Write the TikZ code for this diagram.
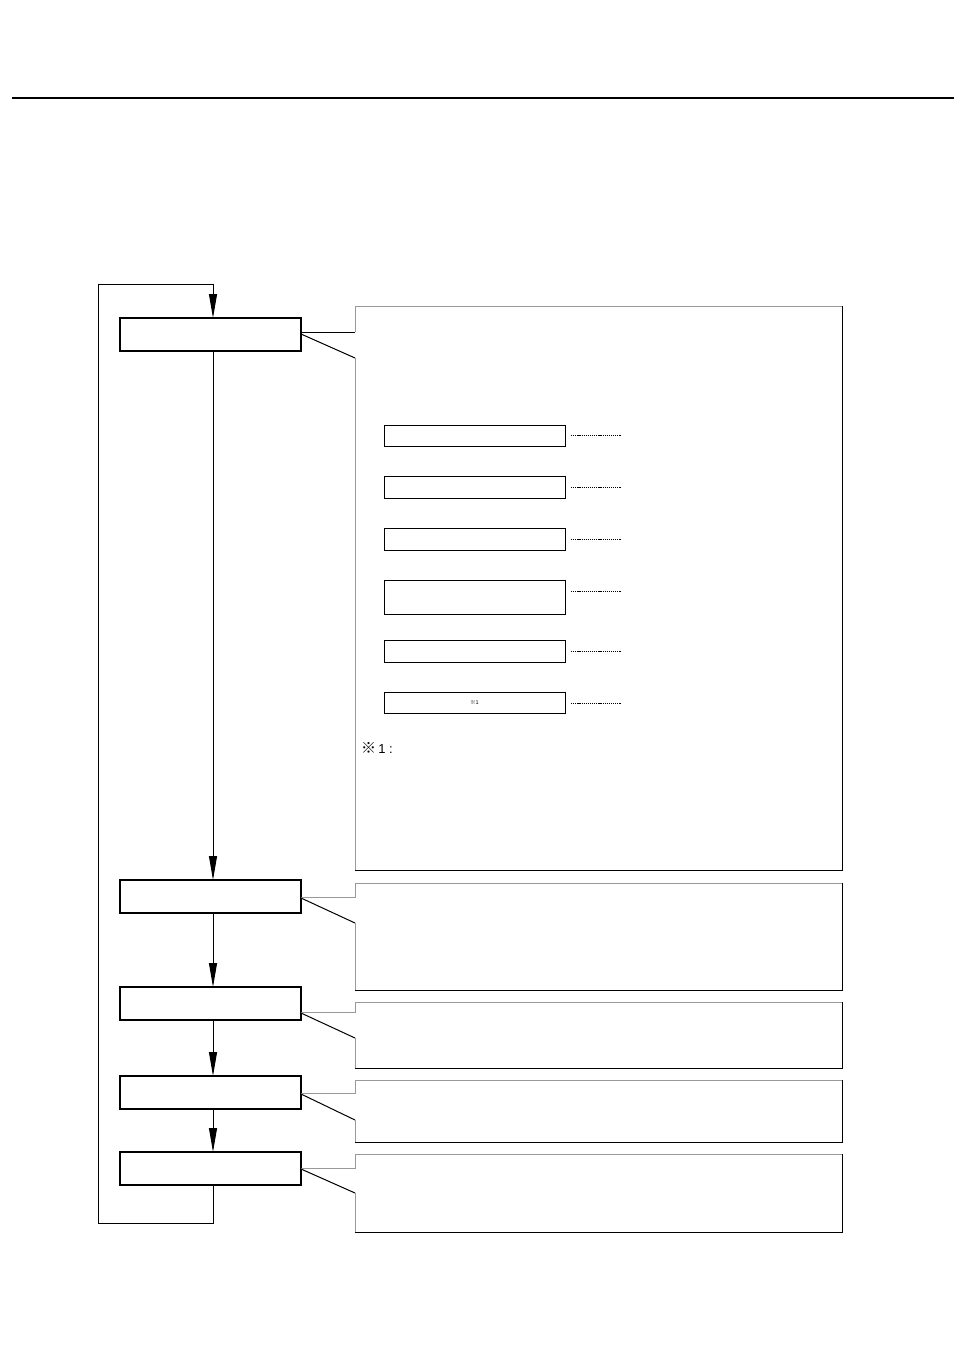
\documentclass[tikz,border=0pt]{standalone}
\usepackage{fontspec}
\setmainfont{Liberation Sans}
\newfontfamily\cjk{Noto Sans CJK JP}
\usetikzlibrary{arrows.meta}
\tikzset{
  mainbox/.style={draw=black, line width=1.2pt, minimum width=181pt, minimum height=33pt, inner sep=0pt, outer sep=0pt, fill=white},
  subbox/.style={draw=black, line width=1pt, minimum width=181pt, inner sep=0pt, outer sep=0pt},
  flow/.style={draw=black, line width=1pt},
  arr/.style={flow, -{Triangle[length=24pt,width=8pt]}},
  callgray/.style={draw=black!40, line width=1pt},
  callblack/.style={draw=black, line width=1pt},
  leader/.style={draw=black, line width=0.8pt, dash pattern=on 1.2pt off 0.9pt},
}
\begin{document}
\begin{tikzpicture}[x=1pt,y=-1pt]
\useasboundingbox (0,0) rectangle (954,1350);
\fill[white] (0,0) rectangle (954,1350);
% top rule
\draw[line width=1.2pt] (12,98) -- (954,98);

% main boxes
\node[mainbox] (b1) at (210.5,334.5) {};
\node[mainbox] (b2) at (210.5,896.5) {};
\node[mainbox] (b3) at (210.5,1003.5) {};
\node[mainbox] (b4) at (210.5,1092.5) {};
\node[mainbox] (b5) at (210.5,1168.5) {};

% flow connectors
\coordinate (cx) at (213,0);
\coordinate (loopA) at (213,1223);
\coordinate (loopB) at (98,1223);
\coordinate (loopC) at (98,284);
\coordinate (loopD) at (213,284);
\draw[flow] (b5.south -| cx) -- (loopA) -- (loopB) -- (loopC) -- (loopD);
\draw[arr] (loopD) -- (b1.north -| cx);
\draw[arr] (b1.south -| cx) -- (b2.north -| cx);
\draw[arr] (b2.south -| cx) -- (b3.north -| cx);
\draw[arr] (b3.south -| cx) -- (b4.north -| cx);
\draw[arr] (b4.south -| cx) -- (b5.north -| cx);

% callout 1 (large)
\coordinate (h1) at (355,332);
\coordinate (g1) at (355,358);
\draw[callblack] (b1.east |- h1) -- (h1);
\draw[callgray] (h1) -- (355,306) -- (842,306);
\draw[callblack] (842,306) -- (842,870) -- (355,870);
\draw[callgray] (355,870) -- (g1);
\draw[callblack] (g1) -- (b1.east |- 0,334);

% callout 2
\coordinate (h2) at (355,897);
\coordinate (g2) at (355,923);
\draw[callgray] (b2.east |- h2) -- (h2) -- (355,883) -- (842,883);
\draw[callblack] (842,883) -- (842,990) -- (355,990);
\draw[callgray] (355,990) -- (g2);
\draw[callblack] (g2) -- (b2.east |- 0,898);

% callout 3
\coordinate (h3) at (355,1012);
\coordinate (g3) at (355,1038);
\draw[callgray] (b3.east |- h3) -- (h3) -- (355,1002) -- (842,1002);
\draw[callblack] (842,1002) -- (842,1068) -- (355,1068);
\draw[callgray] (355,1068) -- (g3);
\draw[callblack] (g3) -- (b3.east |- 0,1013);

% callout 4
\coordinate (h4) at (355,1093);
\coordinate (g4) at (355,1120);
\draw[callgray] (b4.east |- h4) -- (h4) -- (355,1080) -- (842,1080);
\draw[callblack] (842,1080) -- (842,1142) -- (355,1142);
\draw[callgray] (355,1142) -- (g4);
\draw[callblack] (g4) -- (b4.east |- 0,1094);

% callout 5
\coordinate (h5) at (355,1168);
\coordinate (g5) at (355,1193);
\draw[callgray] (b5.east |- h5) -- (h5) -- (355,1154) -- (842,1154);
\draw[callblack] (842,1154) -- (842,1232) -- (355,1232);
\draw[callgray] (355,1232) -- (g5);
\draw[callblack] (g5) -- (b5.east |- 0,1169);

% sub boxes inside callout 1
\node[subbox, minimum height=21pt] (s1) at (474.5,435.5) {};
\node[subbox, minimum height=22pt] (s2) at (474.5,487) {};
\node[subbox, minimum height=22pt] (s3) at (474.5,539) {};
\node[subbox, minimum height=34pt] (s4) at (474.5,597) {};
\node[subbox, minimum height=22pt] (s5) at (474.5,651) {};
\node[subbox, minimum height=21pt] (s6) at (474.5,702.5) {{\cjk\fontsize{5.5pt}{6pt}\selectfont ※}{\fontsize{5.5pt}{6pt}\selectfont 1}};

% dotted leaders
\coordinate (d1) at (621,435);
\coordinate (d2) at (621,487);
\coordinate (d3) at (621,539);
\coordinate (d4) at (621,591);
\coordinate (d5) at (621,651);
\coordinate (d6) at (621,703);
\draw[leader] (d1 -| 571,0) -- (d1);
\draw[leader] (d2 -| 571,0) -- (d2);
\draw[leader] (d3 -| 571,0) -- (d3);
\draw[leader] (d4 -| 571,0) -- (d4);
\draw[leader] (d5 -| 571,0) -- (d5);
\draw[leader] (d6 -| 571,0) -- (d6);

% note
\node[anchor=west, inner sep=0pt] (note) at (361,748) {{\cjk\fontsize{15pt}{17pt}\selectfont ※}{\fontsize{13pt}{15pt}\selectfont\,1 :}};
\end{tikzpicture}
\end{document}
